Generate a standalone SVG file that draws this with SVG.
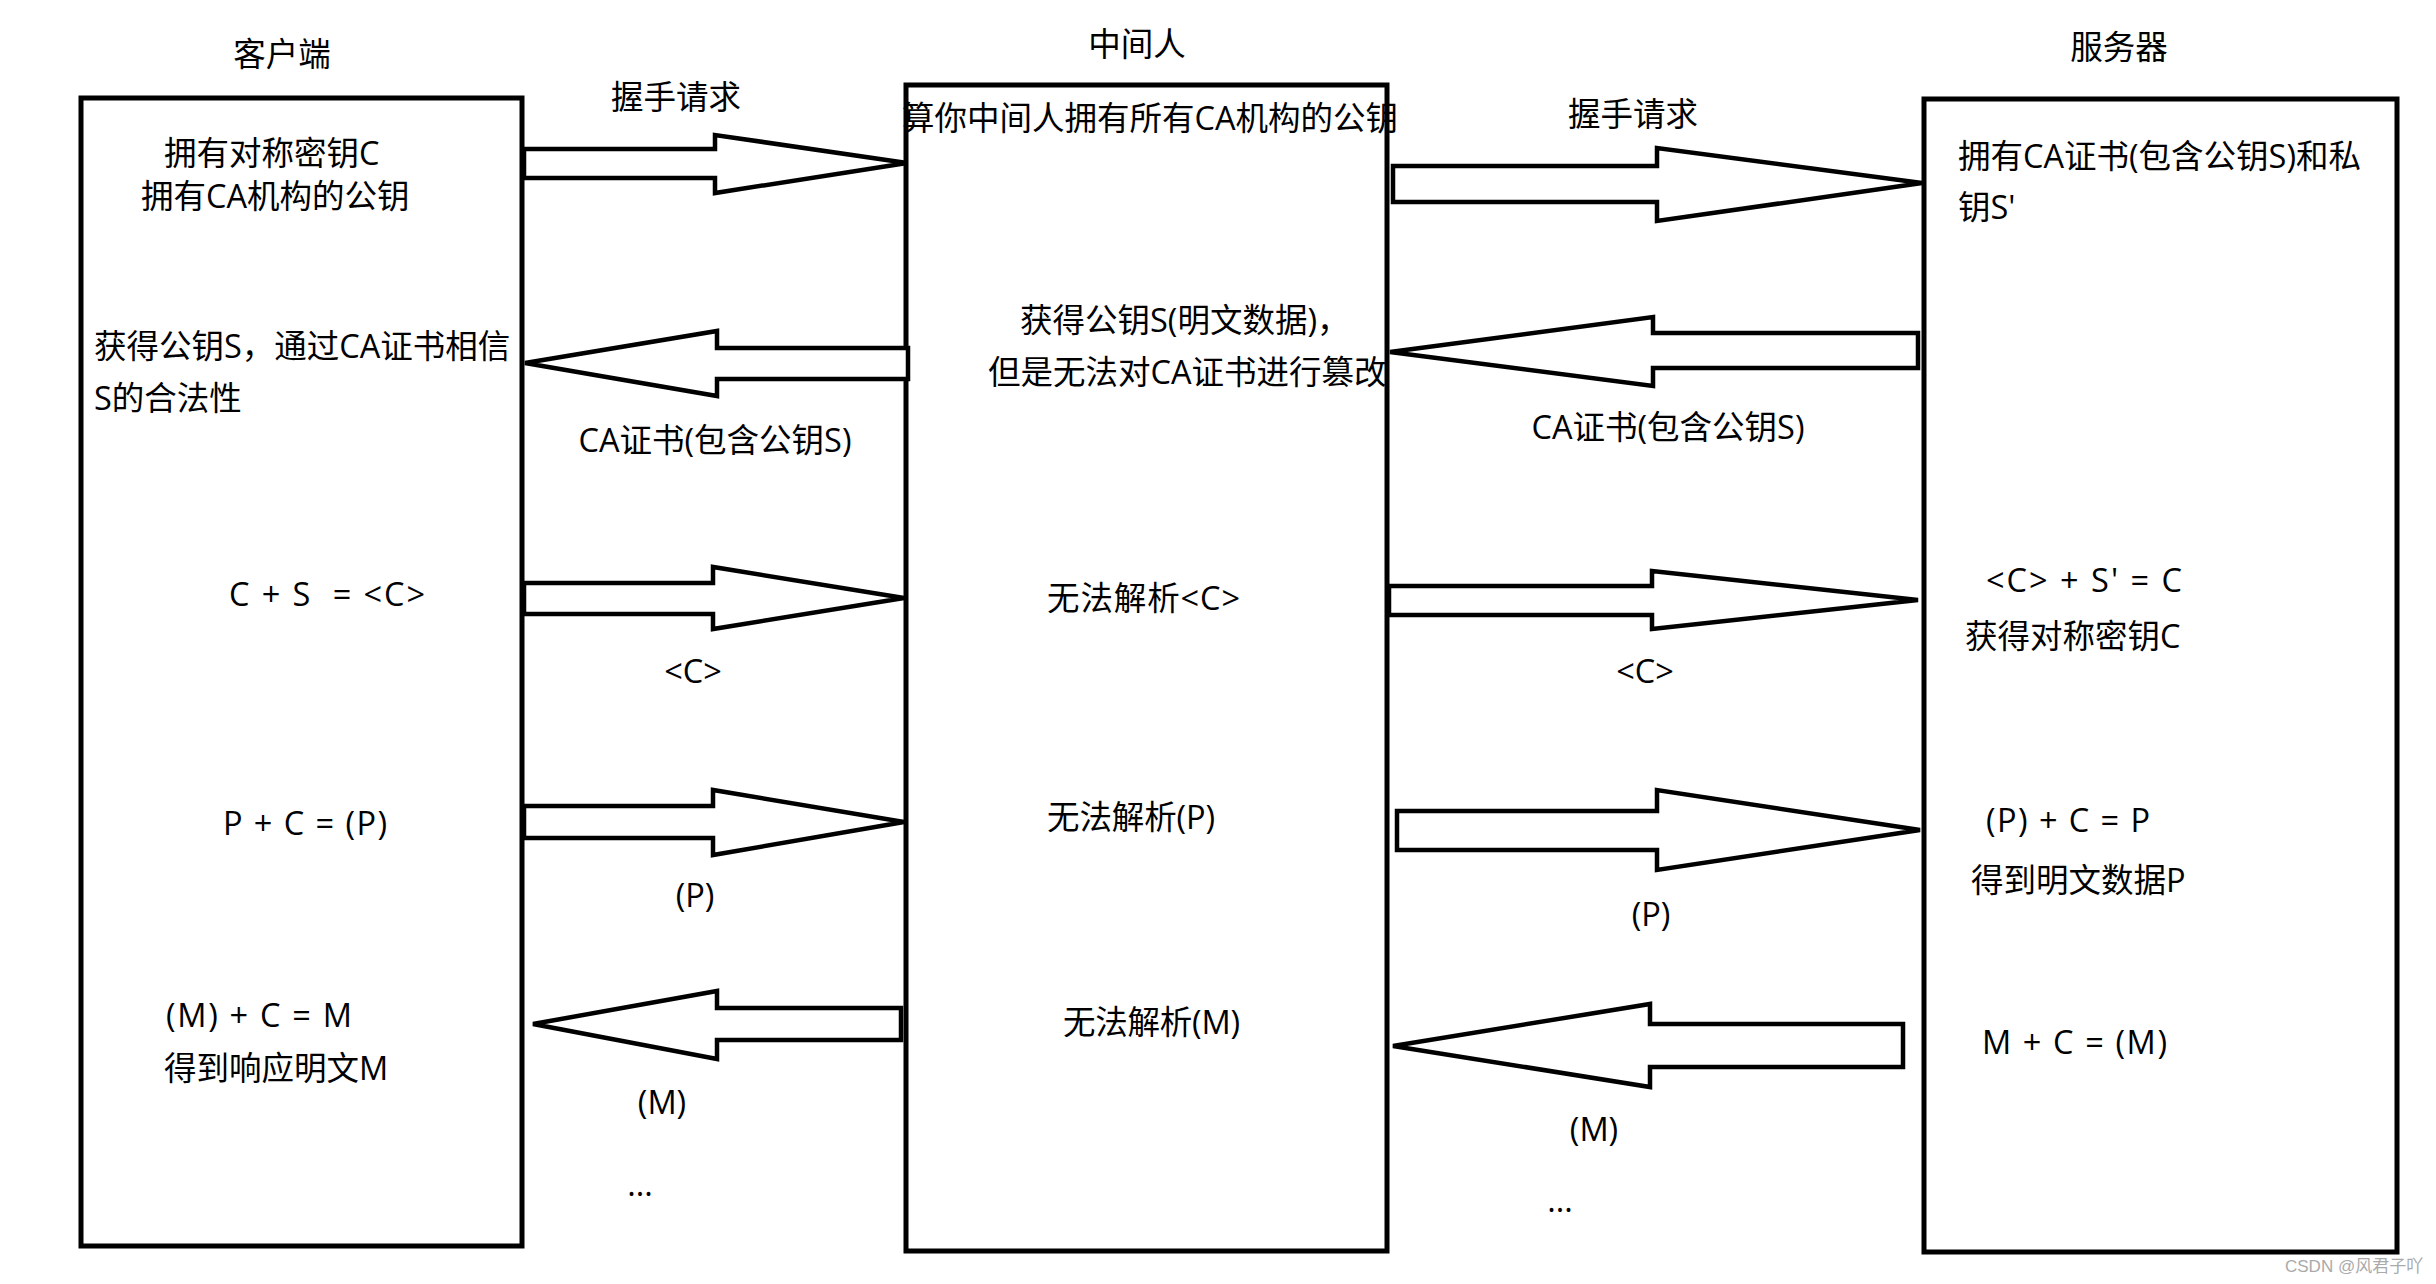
<svg xmlns="http://www.w3.org/2000/svg" width="2436" height="1284" viewBox="0 0 2436 1284">
<style>
.box{fill:#fff;stroke:#000;stroke-width:5}
.arr{fill:#fff;stroke:#000;stroke-width:4.5;stroke-linejoin:miter}
text{font-family:"Open Sans","Noto Sans CJK SC","Microsoft YaHei",sans-serif;font-size:32.5px;fill:#000}
.c{text-anchor:middle}
.wm{font-family:"Liberation Sans","Noto Sans CJK SC",sans-serif;font-size:17px;fill:#aaa}
</style>
<rect width="2436" height="1284" fill="#fff"/>
<g id="client">
<rect class="box" x="81" y="98" width="441" height="1148"/>
<text class="c" x="282" y="66">客户端</text>
<text x="164" y="165">拥有对称密钥C</text>
<text x="141" y="208">拥有CA机构的公钥</text>
<text x="94" y="358">获得公钥S，通过CA证书相信</text>
<text x="94" y="410">S的合法性</text>
<text x="229" y="606" textLength="196" lengthAdjust="spacing" xml:space="preserve">C + S  = &lt;C&gt;</text>
<text x="223" y="835" textLength="164" lengthAdjust="spacing">P + C = (P)</text>
<text x="166" y="1027" textLength="186" lengthAdjust="spacing">(M) + C = M</text>
<text x="164" y="1080">得到响应明文M</text>
</g>
<g id="middle">
<rect class="box" x="906" y="85" width="481" height="1166"/>
<text class="c" x="1137" y="56">中间人</text>
<text x="902" y="130">算你中间人拥有所有CA机构的公钥</text>
<text x="1020" y="332">获得公钥S(明文数据)，</text>
<text x="988" y="384">但是无法对CA证书进行篡改</text>
<text x="1047" y="610" textLength="193" lengthAdjust="spacing">无法解析&lt;C&gt;</text>
<text x="1047" y="829" textLength="168" lengthAdjust="spacing">无法解析(P)</text>
<text x="1063" y="1034" textLength="177" lengthAdjust="spacing">无法解析(M)</text>
</g>
<g id="server">
<rect class="box" x="1924" y="99" width="473" height="1153"/>
<text class="c" x="2119" y="59">服务器</text>
<text x="1958" y="168">拥有CA证书(包含公钥S)和私</text>
<text x="1958" y="219">钥S'</text>
<text x="1986" y="592" textLength="196" lengthAdjust="spacing">&lt;C&gt; + S' = C</text>
<text x="1965" y="648">获得对称密钥C</text>
<text x="1986" y="832" textLength="164" lengthAdjust="spacing">(P) + C = P</text>
<text x="1971" y="892">得到明文数据P</text>
<text x="1982" y="1054" textLength="185" lengthAdjust="spacing">M + C = (M)</text>
</g>
<g id="connectors">
<polygon class="arr" points="524,149 715,149 715,135 907,163 715,193 715,178 524,178"/>
<polygon class="arr" points="525,363 717,331 717,348 908,348 908,379 717,379 717,396"/>
<polygon class="arr" points="524,583 713,583 713,567 904,598 713,629 713,614 524,614"/>
<polygon class="arr" points="524,806 713,806 713,790 904,822 713,855 713,838 524,838"/>
<polygon class="arr" points="533,1024 717,991 717,1008 901,1008 901,1040 717,1040 717,1059"/>
<polygon class="arr" points="1393,166 1657,166 1657,148 1922,183 1657,221 1657,202 1393,202"/>
<polygon class="arr" points="1390,352 1653,317 1653,333 1918,333 1918,368 1653,368 1653,386"/>
<polygon class="arr" points="1389,586 1652,586 1652,571 1918,600 1652,629 1652,615 1389,615"/>
<polygon class="arr" points="1397,811 1657,811 1657,790 1920,830 1657,870 1657,850 1397,850"/>
<polygon class="arr" points="1393,1046 1650,1004 1650,1024 1903,1024 1903,1067 1650,1067 1650,1087"/>
<text class="c" x="676" y="109">握手请求</text>
<text class="c" x="715" y="452">CA证书(包含公钥S)</text>
<text class="c" x="693" y="683">&lt;C&gt;</text>
<text class="c" x="695" y="907">(P)</text>
<text class="c" x="662" y="1114">(M)</text>
<text class="c" x="640" y="1196">...</text>
<text class="c" x="1633" y="126">握手请求</text>
<text class="c" x="1668" y="439">CA证书(包含公钥S)</text>
<text class="c" x="1645" y="683">&lt;C&gt;</text>
<text class="c" x="1651" y="926">(P)</text>
<text class="c" x="1594" y="1141">(M)</text>
<text class="c" x="1560" y="1212">...</text>
</g>
<text class="wm" x="2285" y="1272">CSDN @风君子吖</text>
</svg>
